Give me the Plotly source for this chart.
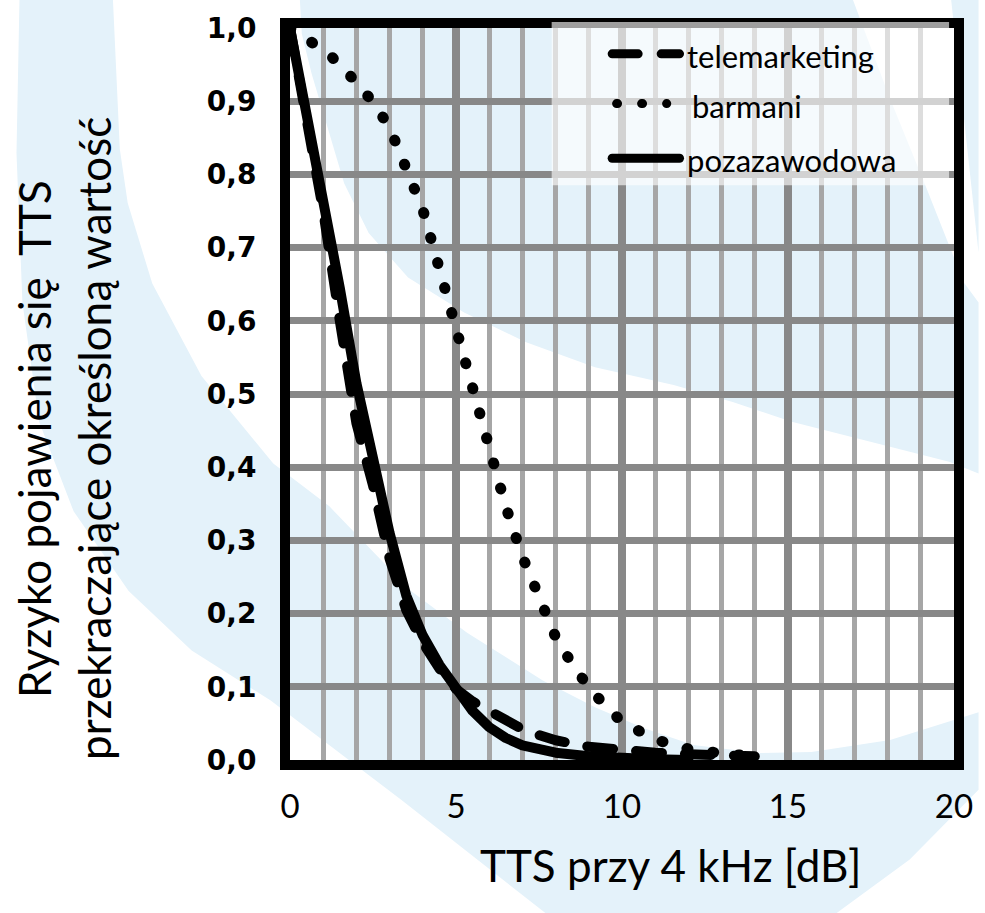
import plotly.graph_objects as go

# ---------------- data ----------------
tts_tele = [0, 0.5, 1.0, 1.5, 2.0, 2.5, 3.0, 3.5, 4.0, 4.5, 5.0, 5.5, 6.0, 6.5, 7.0, 7.5, 8.0, 9.0, 10.0, 11.0, 12.0, 13.0, 14.0]
risk_tele = [1.0, 0.87, 0.75, 0.6, 0.46, 0.375, 0.275, 0.205, 0.16, 0.125, 0.097, 0.08, 0.066, 0.052, 0.042, 0.034, 0.027, 0.018, 0.013, 0.01, 0.008, 0.006, 0.005]

tts_bar = [0, 0.5, 1.0, 1.5, 2.0, 2.5, 3.0, 3.5, 4.0, 4.5, 5.0, 5.5, 6.0, 6.5, 7.0, 7.5, 8.0, 8.5, 9.0, 9.5, 10.0, 11.0, 12.0, 13.0, 14.0]
risk_bar = [1.0, 0.987, 0.97, 0.951, 0.927, 0.899, 0.864, 0.81, 0.752, 0.671, 0.589, 0.509, 0.423, 0.346, 0.278, 0.222, 0.168, 0.131, 0.099, 0.074, 0.052, 0.028, 0.015, 0.009, 0.005]

tts_poz = [0, 0.5, 1.0, 1.5, 2.0, 2.5, 3.0, 3.5, 4.0, 4.5, 5.0, 5.5, 6.0, 6.5, 7.0, 8.0, 9.0, 10.0, 11.0, 12.0]
risk_poz = [1.0, 0.885, 0.77, 0.645, 0.515, 0.41, 0.31, 0.225, 0.17, 0.13, 0.097, 0.067, 0.045, 0.03, 0.02, 0.01, 0.005, 0.002, 0.001, 0.0]

series_names = ["telemarketing", "barmani", "pozazawodowa"]
x_ticks = [0, 5, 10, 15, 20]
x_title = "TTS przy 4 kHz [dB]"
y_title_lines = ["Ryzyko pojawienia się  TTS", "przekraczające określoną wartość"]

# ---------------- layout geometry ----------------
W, H = 985, 913
ML, MR, MT, MB = 290, 20, 24, 153
PW = W - ML - MR
PH = H - MT - MB


def px(X):
    return (X - ML) / PW


def py(Y):
    return (H - MB - Y) / PH


def path_from(points):
    return "M " + " L ".join(f"{px(a):.4f},{py(b):.4f}" for a, b in points) + " Z"


WM = "#e4f2fa"
crescent = [(15, -5), (12, 150), (18, 300), (35, 420), (70, 510), (126, 590), (190, 650),
            (270, 700), (403, 800), (555, 918), (840, 918), (920, 860), (990, 790),
            (990, 712), (900, 740), (820, 752), (767, 753), (700, 745), (650, 728),
            (600, 707), (547, 680), (470, 632), (413, 590), (330, 505), (273, 462),
            (200, 374), (150, 281), (125, 200), (117, 146), (110, -5)]
disk = [(300, -5), (862, -5), (900, 95), (935, 180), (975, 280), (990, 300), (990, 472),
        (960, 460), (880, 440), (800, 420), (740, 400), (680, 383), (600, 365),
        (530, 340), (467, 310), (410, 275), (370, 230), (345, 180), (330, 130),
        (312, 70), (302, 30)]
corner = [(962, -5), (990, -5), (990, 250)]

shapes = [
    dict(type="path", xref="paper", yref="paper", path=path_from(p), fillcolor=WM,
         line=dict(width=0), layer="below")
    for p in (crescent, disk, corner)
]

# legend box (semi-transparent white, above the grid and frame)
shapes.append(dict(type="rect", xref="paper", yref="paper", x0=px(556), x1=px(960),
                   y0=py(182), y1=py(18), fillcolor="rgba(255,255,255,0.62)",
                   line=dict(width=0), layer="above"))
leg_rows = [50, 100, 155]
leg_dash = ["26px,23px", "1px,24px", "solid"]
leg_span = [(617.5, 686), (622, 673), (617.5, 686)]
for (a, b), yy, d in zip(leg_span, leg_rows, leg_dash):
    shapes.append(dict(type="line", xref="paper", yref="paper", x0=px(a), x1=px(b),
                       y0=py(yy), y1=py(yy), layer="above",
                       line=dict(color="black", width=9, dash=d)))

annotations = []
leg_text_x = [692, 697, 692]
for name, xx, yy in zip(series_names, leg_text_x, leg_rows):
    annotations.append(dict(text=name, xref="paper", yref="paper", x=px(xx), y=py(yy + 2),
                            xanchor="left", yanchor="middle", showarrow=False,
                            font=dict(family="Lato", size=31, color="black")))

annotations.append(dict(text=x_title, xref="paper", yref="paper", x=px(677), y=py(866),
                        xanchor="center", yanchor="middle", showarrow=False,
                        font=dict(family="Lato", size=44, color="black")))
for line, cx in zip(y_title_lines, [30, 90]):
    annotations.append(dict(text=line, xref="paper", yref="paper", x=px(cx), y=py(437),
                            xanchor="center", yanchor="middle", showarrow=False,
                            textangle=-90,
                            font=dict(family="Lato", size=44, color="black")))

fig = go.Figure()
fig.add_trace(go.Scatter(x=tts_tele, y=risk_tele, mode="lines", name=series_names[0],
                         line=dict(color="black", width=10, dash="26px,23px")))
fig.add_trace(go.Scatter(x=tts_bar, y=risk_bar, mode="lines", name=series_names[1],
                         line=dict(color="black", width=11, dash="1px,25px")))
fig.add_trace(go.Scatter(x=tts_poz, y=risk_poz, mode="lines", name=series_names[2],
                         line=dict(color="black", width=10)))

fig.update_layout(
    width=W, height=H,
    margin=dict(l=ML, r=MR, t=MT, b=MB, pad=0),
    paper_bgcolor="white", plot_bgcolor="rgba(0,0,0,0)",
    showlegend=False,
    separators=", ",
    shapes=shapes, annotations=annotations,
    xaxis=dict(range=[0, 20], tickvals=x_ticks, showgrid=True, gridcolor="#888888",
               gridwidth=8, zeroline=False, showline=True, mirror=True, linecolor="black",
               linewidth=10, layer="below traces", ticks="", ticklabelstandoff=8,
               tickfont=dict(family="Lato", size=33, color="black"),
               minor=dict(dtick=1, showgrid=True, gridcolor="#a6a6a6", gridwidth=5)),
    yaxis=dict(range=[0, 1], dtick=0.1, tickformat=".1f", showgrid=True,
               gridcolor="#888888", gridwidth=7, zeroline=False, showline=True,
               mirror=True, linecolor="black", linewidth=10, layer="below traces",
               ticks="", ticklabelstandoff=18,
               tickfont=dict(family="DejaVu Sans", size=28, color="black", weight="bold")),
)

post = """
var gd = document.getElementById('{plot_id}');
function rc(){
  document.querySelectorAll('path.js-line, .shapelayer path').forEach(function(p){
    p.style.strokeLinecap = 'round'; p.style.strokeLinejoin = 'round';
  });
}
rc();
if (gd && gd.on) { gd.on('plotly_afterplot', rc); }
setTimeout(rc, 50); setTimeout(rc, 300);
"""
fig.write_html("out.html", post_script=post)
